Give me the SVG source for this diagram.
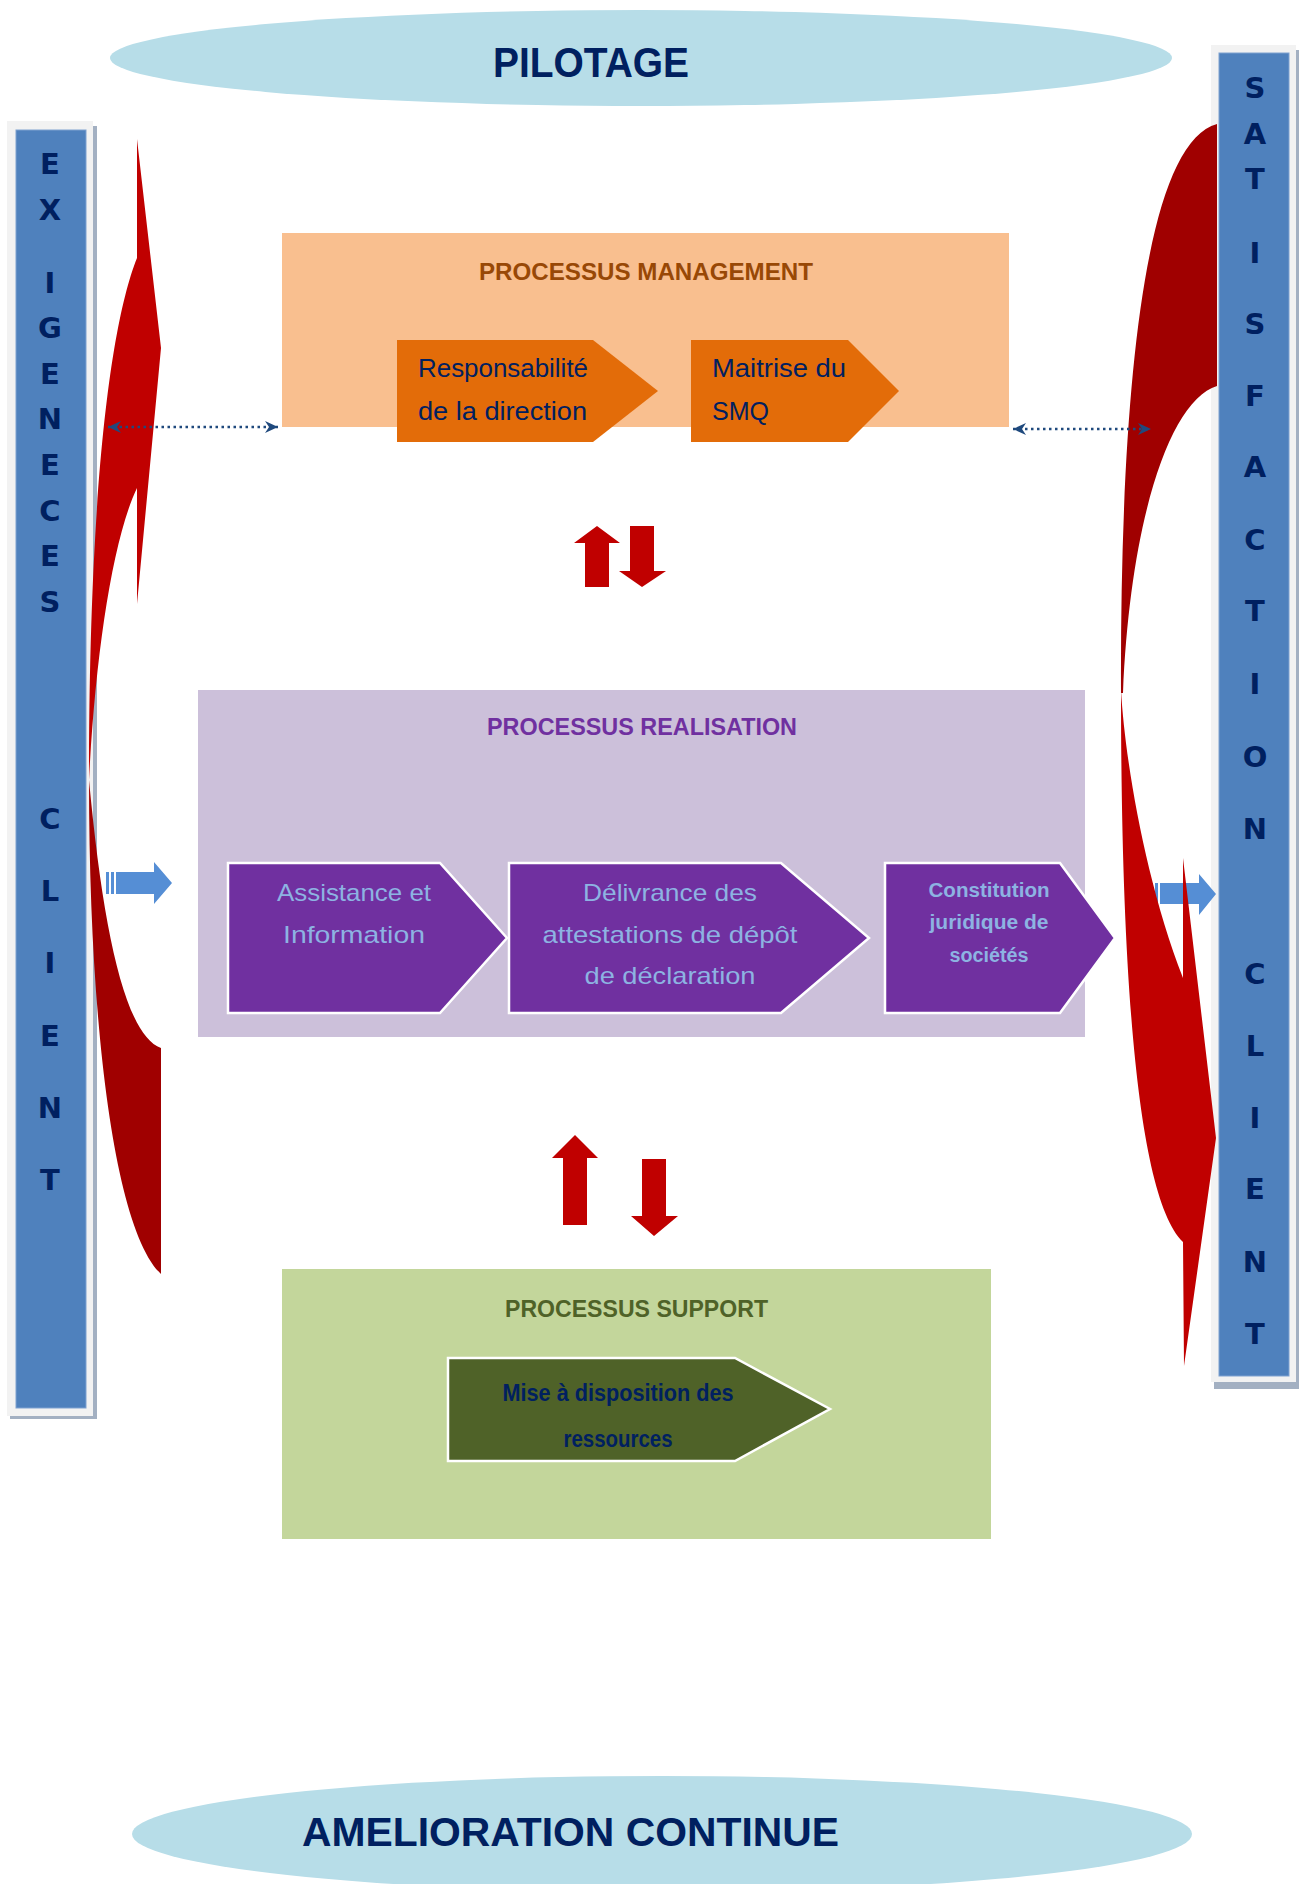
<svg xmlns="http://www.w3.org/2000/svg" width="1299" height="1884" viewBox="0 0 1299 1884">
<defs>
<style>
.ttl{font-family:"Liberation Sans",Arial,sans-serif;font-weight:bold;}
.bar-txt{font-family:"DejaVu Sans","Liberation Sans",sans-serif;font-weight:bold;font-size:29px;fill:#002060;text-anchor:middle;}
.reg{font-family:"Liberation Sans",Arial,sans-serif;}
.frame{fill:#F2F2F2;}
.shadow{fill:#A3B0C2;}
.barblue{fill:#4F81BD;stroke:#7EA1D0;stroke-width:1;}
.red{fill:#C00000;}
.dark{fill:#A00000;}
.blk{fill:#558ED5;}
.dot{fill:none;stroke:#1F497D;stroke-width:2.5;stroke-dasharray:2.5 3.5;}
</style>
<marker id="ah" markerUnits="userSpaceOnUse" markerWidth="14" markerHeight="12" refX="13" refY="6" orient="auto-start-reverse">
<path d="M0,0 L13,6 L0,12 L4,6 Z" fill="#1F497D"/>
</marker>
</defs>
<rect width="1299" height="1884" fill="#FFFFFF"/>

<g id="pilotage">
<ellipse cx="641" cy="58" rx="531" ry="48" fill="#B7DDE8"/>
<text class="ttl" x="493" y="77" font-size="42" fill="#002060" textLength="196" lengthAdjust="spacingAndGlyphs">PILOTAGE</text>
</g>

<g id="amelioration">
<ellipse cx="662" cy="1834" rx="530" ry="58" fill="#B7DDE8"/>
<text class="ttl" x="302" y="1846" font-size="41" fill="#002060" textLength="537" lengthAdjust="spacingAndGlyphs">AMELIORATION CONTINUE</text>
</g>

<g id="exigences-client">
<rect class="shadow" x="10" y="126" width="87" height="1293"/>
<rect class="frame" x="7" y="121" width="86" height="1295"/>
<rect class="barblue" x="16" y="130" width="70" height="1278"/>
<text class="bar-txt" x="50" y="174">E</text>
<text class="bar-txt" x="50" y="220">X</text>
<text class="bar-txt" x="50" y="293">I</text>
<text class="bar-txt" x="50" y="338">G</text>
<text class="bar-txt" x="50" y="384">E</text>
<text class="bar-txt" x="50" y="429">N</text>
<text class="bar-txt" x="50" y="475">E</text>
<text class="bar-txt" x="50" y="521">C</text>
<text class="bar-txt" x="50" y="566">E</text>
<text class="bar-txt" x="50" y="612">S</text>
<text class="bar-txt" x="50" y="829">C</text>
<text class="bar-txt" x="50" y="901">L</text>
<text class="bar-txt" x="50" y="973">I</text>
<text class="bar-txt" x="50" y="1046">E</text>
<text class="bar-txt" x="50" y="1118">N</text>
<text class="bar-txt" x="50" y="1190">T</text>
</g>

<g id="satisfaction-client">
<rect class="shadow" x="1214" y="50" width="85" height="1339"/>
<rect class="frame" x="1211" y="45" width="85" height="1337"/>
<rect class="barblue" x="1219" y="53" width="70" height="1323"/>
<text class="bar-txt" x="1255" y="98">S</text>
<text class="bar-txt" x="1255" y="144">A</text>
<text class="bar-txt" x="1255" y="189">T</text>
<text class="bar-txt" x="1255" y="263">I</text>
<text class="bar-txt" x="1255" y="334">S</text>
<text class="bar-txt" x="1255" y="406">F</text>
<text class="bar-txt" x="1255" y="477">A</text>
<text class="bar-txt" x="1255" y="550">C</text>
<text class="bar-txt" x="1255" y="621">T</text>
<text class="bar-txt" x="1255" y="694">I</text>
<text class="bar-txt" x="1255" y="767">O</text>
<text class="bar-txt" x="1255" y="839">N</text>
<text class="bar-txt" x="1255" y="984">C</text>
<text class="bar-txt" x="1255" y="1056">L</text>
<text class="bar-txt" x="1255" y="1128">I</text>
<text class="bar-txt" x="1255" y="1199">E</text>
<text class="bar-txt" x="1255" y="1272">N</text>
<text class="bar-txt" x="1255" y="1344">T</text>
</g>

<g id="processus-management">
<rect x="282" y="233" width="727" height="194" fill="#F9BF8F"/>
<text class="ttl" x="479" y="280" font-size="24" fill="#984806" textLength="334" lengthAdjust="spacingAndGlyphs">PROCESSUS MANAGEMENT</text>
<g id="responsabilite">
<path d="M397,340 L593,340 L658,391 L593,442 L397,442 Z" fill="#E36C09"/>
<text class="reg" font-size="25" fill="#002060"><tspan x="418" y="377" textLength="170" lengthAdjust="spacingAndGlyphs">Responsabilité</tspan><tspan x="418" y="420" textLength="169" lengthAdjust="spacingAndGlyphs">de la direction</tspan></text>
</g>
<g id="maitrise">
<path d="M691,340 L848,340 L899,391 L848,442 L691,442 Z" fill="#E36C09"/>
<text class="reg" font-size="25" fill="#002060"><tspan x="712" y="377" textLength="134" lengthAdjust="spacingAndGlyphs">Maitrise du</tspan><tspan x="712" y="420">SMQ</tspan></text>
</g>
</g>

<g id="processus-realisation">
<rect x="198" y="690" width="887" height="347" fill="#CCC0DA"/>
<text class="ttl" x="487" y="735" font-size="24" fill="#7030A0" textLength="310" lengthAdjust="spacingAndGlyphs">PROCESSUS REALISATION</text>
<g id="assistance">
<path d="M228,863 L440,863 L507,938 L440,1013 L228,1013 Z" fill="#7030A0" stroke="#FFFFFF" stroke-width="2.5"/>
<text class="reg" font-size="24" fill="#8DB3E2" text-anchor="middle"><tspan x="354" y="901" textLength="154" lengthAdjust="spacingAndGlyphs">Assistance et</tspan><tspan x="354" y="943" textLength="142" lengthAdjust="spacingAndGlyphs">Information</tspan></text>
</g>
<g id="delivrance">
<path d="M509,863 L781,863 L869,938 L781,1013 L509,1013 Z" fill="#7030A0" stroke="#FFFFFF" stroke-width="2.5"/>
<text class="reg" font-size="24" fill="#8DB3E2" text-anchor="middle"><tspan x="670" y="901" textLength="174" lengthAdjust="spacingAndGlyphs">Délivrance des</tspan><tspan x="670" y="943" textLength="255" lengthAdjust="spacingAndGlyphs">attestations de dépôt</tspan><tspan x="670" y="984" textLength="171" lengthAdjust="spacingAndGlyphs">de déclaration</tspan></text>
</g>
<g id="constitution">
<path d="M885,863 L1060,863 L1115,938 L1060,1013 L885,1013 Z" fill="#7030A0" stroke="#FFFFFF" stroke-width="2.5"/>
<text class="ttl" font-size="20" fill="#8DB3E2" text-anchor="middle"><tspan x="989" y="897" textLength="121" lengthAdjust="spacingAndGlyphs">Constitution</tspan><tspan x="989" y="929" textLength="119" lengthAdjust="spacingAndGlyphs">juridique de</tspan><tspan x="989" y="962" textLength="79" lengthAdjust="spacingAndGlyphs">sociétés</tspan></text>
</g>
</g>

<g id="processus-support">
<rect x="282" y="1269" width="709" height="270" fill="#C3D69B"/>
<text class="ttl" x="505" y="1317" font-size="24" fill="#4F6228" textLength="263" lengthAdjust="spacingAndGlyphs">PROCESSUS SUPPORT</text>
<g id="mise-a-disposition">
<path d="M448,1358 L735,1358 L830,1409 L735,1461 L448,1461 Z" fill="#4F6228" stroke="#FFFFFF" stroke-width="2.5"/>
<text class="ttl" font-size="24" fill="#002060" text-anchor="middle"><tspan x="618" y="1401" textLength="231" lengthAdjust="spacingAndGlyphs">Mise à disposition des</tspan><tspan x="618" y="1447" textLength="109" lengthAdjust="spacingAndGlyphs">ressources</tspan></text>
</g>
</g>

<g id="connectors">
<g id="block-arrows">
<rect class="blk" x="106" y="872" width="3" height="22"/>
<rect class="blk" x="111" y="872" width="3" height="22"/>
<path class="blk" d="M116,872 L154,872 L154,862 L172,883 L154,904 L154,894 L116,894 Z"/>
<rect class="blk" x="1150" y="883" width="3" height="21"/>
<rect class="blk" x="1155" y="883" width="3" height="21"/>
<path class="blk" d="M1160,883 L1199,883 L1199,874 L1216,894 L1199,915 L1199,904 L1160,904 Z"/>
</g>
<g id="curved-left">
<path class="dark" d="M161,1048 C125,1035 103,930 89,780 C89,1030 115,1230 161,1274 Z"/>
<path class="red" d="M137,488 L137,604 L161,348 L137,139 L137,258 C112,320 89,480 89,780 C95,660 112,540 137,488 Z"/>
</g>
<g id="curved-right">
<path class="dark" d="M1217,124 L1217,386 C1170,400 1130,520 1123,693 L1121,693 C1120,420 1140,145 1217,124 Z"/>
<path class="red" d="M1183,978 L1183,858 L1216,1138 L1184,1366 L1183,1242 C1140,1200 1121,1000 1121,690 C1125,760 1145,880 1183,978 Z"/>
</g>
<g id="red-arrows-top">
<path class="red" d="M597,526 L620,543 L609,543 L609,587 L585,587 L585,543 L574,543 Z"/>
<path class="red" d="M630,526 L654,526 L654,571 L666,571 L642,587 L619,571 L630,571 Z"/>
</g>
<g id="red-arrows-bottom">
<path class="red" d="M575,1135 L598,1158 L587,1158 L587,1225 L563,1225 L563,1158 L552,1158 Z"/>
<path class="red" d="M642,1159 L666,1159 L666,1216 L678,1216 L654,1236 L631,1216 L642,1216 Z"/>
</g>
<line class="dot" x1="278" y1="427" x2="108" y2="427" marker-start="url(#ah)" marker-end="url(#ah)"/>
<line class="dot" x1="1013" y1="429" x2="1151" y2="429" marker-start="url(#ah)" marker-end="url(#ah)"/>
</g>
</svg>
